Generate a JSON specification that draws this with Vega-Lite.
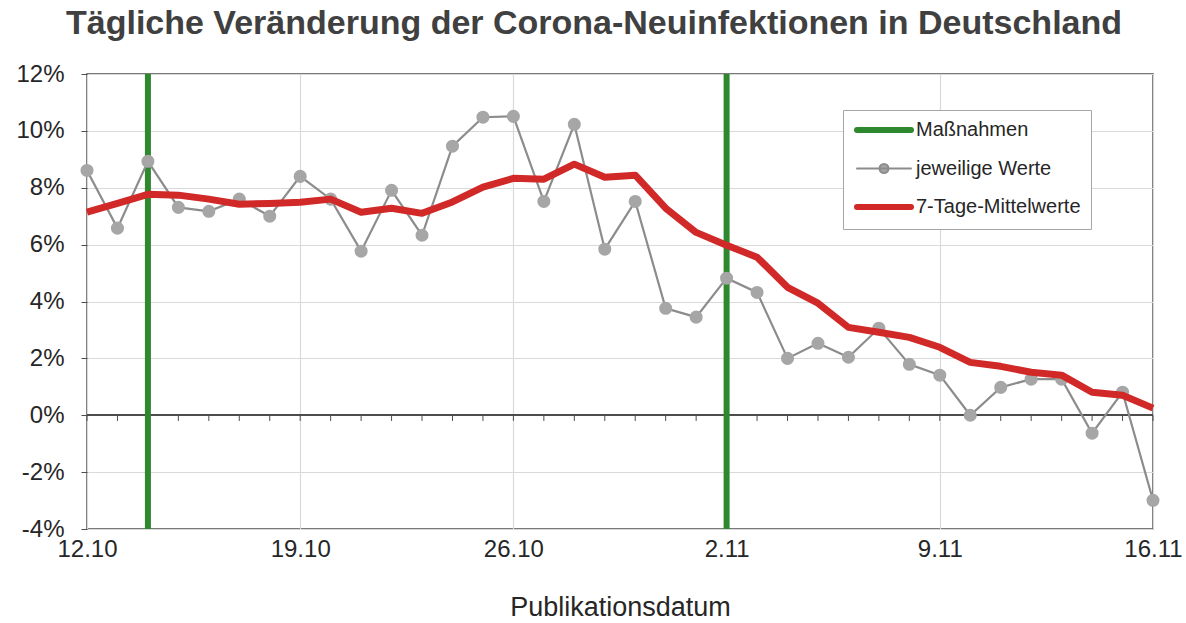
{
  "$schema": "https://vega.github.io/schema/vega-lite/v6.json",
  "width": 1066,
  "height": 455,
  "autosize": "none",
  "padding": {"left": 87, "top": 74, "right": 33, "bottom": 94},
  "background": "white",
  "config": {
    "font": "Liberation Sans",
    "view": {"stroke": "#4d4d4d", "strokeWidth": 1.5}
  },
  "title": {
    "text": "Tägliche Veränderung der Corona-Neuinfektionen in Deutschland",
    "font": "Liberation Sans",
    "fontSize": 34,
    "fontWeight": "bold",
    "color": "#404040",
    "anchor": "middle",
    "dx": -26,
    "offset": 21
  },
  "data": {
    "values": [
      {"date": "2020-10-12", "series": "jeweilige Werte", "value": 8.61},
      {"date": "2020-10-13", "series": "jeweilige Werte", "value": 6.58},
      {"date": "2020-10-14", "series": "jeweilige Werte", "value": 8.93},
      {"date": "2020-10-15", "series": "jeweilige Werte", "value": 7.31},
      {"date": "2020-10-16", "series": "jeweilige Werte", "value": 7.17},
      {"date": "2020-10-17", "series": "jeweilige Werte", "value": 7.6},
      {"date": "2020-10-18", "series": "jeweilige Werte", "value": 7.0},
      {"date": "2020-10-19", "series": "jeweilige Werte", "value": 8.4},
      {"date": "2020-10-20", "series": "jeweilige Werte", "value": 7.6},
      {"date": "2020-10-21", "series": "jeweilige Werte", "value": 5.77},
      {"date": "2020-10-22", "series": "jeweilige Werte", "value": 7.91},
      {"date": "2020-10-23", "series": "jeweilige Werte", "value": 6.33},
      {"date": "2020-10-24", "series": "jeweilige Werte", "value": 9.46},
      {"date": "2020-10-25", "series": "jeweilige Werte", "value": 10.48},
      {"date": "2020-10-26", "series": "jeweilige Werte", "value": 10.51},
      {"date": "2020-10-27", "series": "jeweilige Werte", "value": 7.52},
      {"date": "2020-10-28", "series": "jeweilige Werte", "value": 10.23},
      {"date": "2020-10-29", "series": "jeweilige Werte", "value": 5.84},
      {"date": "2020-10-30", "series": "jeweilige Werte", "value": 7.52},
      {"date": "2020-10-31", "series": "jeweilige Werte", "value": 3.76},
      {"date": "2020-11-01", "series": "jeweilige Werte", "value": 3.45},
      {"date": "2020-11-02", "series": "jeweilige Werte", "value": 4.82},
      {"date": "2020-11-03", "series": "jeweilige Werte", "value": 4.32},
      {"date": "2020-11-04", "series": "jeweilige Werte", "value": 2.0},
      {"date": "2020-11-05", "series": "jeweilige Werte", "value": 2.53},
      {"date": "2020-11-06", "series": "jeweilige Werte", "value": 2.04},
      {"date": "2020-11-07", "series": "jeweilige Werte", "value": 3.06},
      {"date": "2020-11-08", "series": "jeweilige Werte", "value": 1.79},
      {"date": "2020-11-09", "series": "jeweilige Werte", "value": 1.41},
      {"date": "2020-11-10", "series": "jeweilige Werte", "value": 0.0},
      {"date": "2020-11-11", "series": "jeweilige Werte", "value": 0.98},
      {"date": "2020-11-12", "series": "jeweilige Werte", "value": 1.27},
      {"date": "2020-11-13", "series": "jeweilige Werte", "value": 1.27},
      {"date": "2020-11-14", "series": "jeweilige Werte", "value": -0.63},
      {"date": "2020-11-15", "series": "jeweilige Werte", "value": 0.81},
      {"date": "2020-11-16", "series": "jeweilige Werte", "value": -2.99},
      {"date": "2020-10-12", "series": "7-Tage-Mittelwerte", "value": 7.14},
      {"date": "2020-10-13", "series": "7-Tage-Mittelwerte", "value": 7.45},
      {"date": "2020-10-14", "series": "7-Tage-Mittelwerte", "value": 7.77},
      {"date": "2020-10-15", "series": "7-Tage-Mittelwerte", "value": 7.74},
      {"date": "2020-10-16", "series": "7-Tage-Mittelwerte", "value": 7.6},
      {"date": "2020-10-17", "series": "7-Tage-Mittelwerte", "value": 7.42},
      {"date": "2020-10-18", "series": "7-Tage-Mittelwerte", "value": 7.45},
      {"date": "2020-10-19", "series": "7-Tage-Mittelwerte", "value": 7.49},
      {"date": "2020-10-20", "series": "7-Tage-Mittelwerte", "value": 7.6},
      {"date": "2020-10-21", "series": "7-Tage-Mittelwerte", "value": 7.14},
      {"date": "2020-10-22", "series": "7-Tage-Mittelwerte", "value": 7.28},
      {"date": "2020-10-23", "series": "7-Tage-Mittelwerte", "value": 7.1},
      {"date": "2020-10-24", "series": "7-Tage-Mittelwerte", "value": 7.5},
      {"date": "2020-10-25", "series": "7-Tage-Mittelwerte", "value": 8.02},
      {"date": "2020-10-26", "series": "7-Tage-Mittelwerte", "value": 8.33},
      {"date": "2020-10-27", "series": "7-Tage-Mittelwerte", "value": 8.3},
      {"date": "2020-10-28", "series": "7-Tage-Mittelwerte", "value": 8.83},
      {"date": "2020-10-29", "series": "7-Tage-Mittelwerte", "value": 8.37},
      {"date": "2020-10-30", "series": "7-Tage-Mittelwerte", "value": 8.44},
      {"date": "2020-10-31", "series": "7-Tage-Mittelwerte", "value": 7.28},
      {"date": "2020-11-01", "series": "7-Tage-Mittelwerte", "value": 6.43},
      {"date": "2020-11-02", "series": "7-Tage-Mittelwerte", "value": 5.98},
      {"date": "2020-11-03", "series": "7-Tage-Mittelwerte", "value": 5.56},
      {"date": "2020-11-04", "series": "7-Tage-Mittelwerte", "value": 4.5},
      {"date": "2020-11-05", "series": "7-Tage-Mittelwerte", "value": 3.94},
      {"date": "2020-11-06", "series": "7-Tage-Mittelwerte", "value": 3.09},
      {"date": "2020-11-07", "series": "7-Tage-Mittelwerte", "value": 2.92},
      {"date": "2020-11-08", "series": "7-Tage-Mittelwerte", "value": 2.74},
      {"date": "2020-11-09", "series": "7-Tage-Mittelwerte", "value": 2.39},
      {"date": "2020-11-10", "series": "7-Tage-Mittelwerte", "value": 1.86},
      {"date": "2020-11-11", "series": "7-Tage-Mittelwerte", "value": 1.72},
      {"date": "2020-11-12", "series": "7-Tage-Mittelwerte", "value": 1.51},
      {"date": "2020-11-13", "series": "7-Tage-Mittelwerte", "value": 1.41},
      {"date": "2020-11-14", "series": "7-Tage-Mittelwerte", "value": 0.81},
      {"date": "2020-11-15", "series": "7-Tage-Mittelwerte", "value": 0.7},
      {"date": "2020-11-16", "series": "7-Tage-Mittelwerte", "value": 0.25},
      {"date": "2020-10-14", "series": "Maßnahmen", "value": null},
      {"date": "2020-11-02", "series": "Maßnahmen", "value": null}
    ]
  },
  "layer": [
    {
      "transform": [{"filter": "datum.series === 'jeweilige Werte'"}],
      "mark": {"type": "rule", "color": "#4d4d4d", "strokeWidth": 1},
      "encoding": {
        "x": {
          "field": "date", "type": "temporal",
          "scale": {"type": "utc", "domain": [{"year": 2020, "month": 10, "date": 12, "utc": true}, {"year": 2020, "month": 11, "date": 16, "utc": true}]},
          "axis": {
            "values": [{"year": 2020, "month": 10, "date": 12, "utc": true}, {"year": 2020, "month": 10, "date": 19, "utc": true}, {"year": 2020, "month": 10, "date": 26, "utc": true}, {"year": 2020, "month": 11, "date": 2, "utc": true}, {"year": 2020, "month": 11, "date": 9, "utc": true}, {"year": 2020, "month": 11, "date": 16, "utc": true}],
            "format": "%-d.%m", "title": "Publikationsdatum", "grid": true, "gridColor": "#d9d9d9", "gridWidth": 1.2,
            "ticks": false, "domain": false, "labelFontSize": 24, "labelPadding": 8, "labelColor": "#262626", "labelFlush": false,
            "titleFontSize": 27, "titleFontWeight": "normal", "titleColor": "#262626", "titlePadding": 33
          }
        },
        "y": {"datum": 0, "type": "quantitative", "scale": {"domain": [-4, 12], "nice": false, "zero": false}},
        "y2": {"datum": -0.2}
      }
    },
    {
      "mark": {"type": "rule", "color": "#4d4d4d", "strokeWidth": 1.5},
      "encoding": {
        "y": {"datum": 0, "type": "quantitative", "scale": {"domain": [-4, 12], "nice": false, "zero": false}}
      }
    },
    {
      "transform": [{"filter": "datum.series === 'Maßnahmen'"}],
      "mark": {"type": "rule", "strokeWidth": 6},
      "encoding": {
        "x": {"field": "date", "type": "temporal"},
        "color": {
          "field": "series", "type": "nominal",
          "scale": {"domain": ["Maßnahmen", "jeweilige Werte", "7-Tage-Mittelwerte"], "range": ["#2e882e", "#8c8c8c", "#d12828"]},
          "legend": {
            "orient": "none", "legendX": 756, "legendY": 36, "title": null, "direction": "vertical",
            "padding": 10, "strokeColor": "#a6a6a6", "fillColor": "white",
            "labelFontSize": 20, "labelColor": "#262626", "labelOffset": 43, "rowPadding": 16.5, "labelLimit": 400,
            "labelExpr": "datum.label + '\u00a0\u00a0\u00a0'",
            "symbolSize": 400, "symbolType": "M-0.6,0H4.8", "symbolStrokeWidth": 6,
            "encode": {
              "symbols": {
                "update": {
                  "shape": {"signal": "datum.label === 'jeweilige Werte' ? 'M-0.6,0H4.8M1.65,0A0.45,0.45,0,1,1,2.55,0A0.45,0.45,0,1,1,1.65,0Z' : 'M-0.6,0H4.8'"},
                  "strokeWidth": {"signal": "datum.label === 'jeweilige Werte' ? 2 : 6"},
                  "fill": {"signal": "datum.label === 'jeweilige Werte' ? '#a6a6a6' : 'transparent'"},
                  "stroke": {"signal": "datum.label === 'jeweilige Werte' ? '#8c8c8c' : (datum.label === 'Maßnahmen' ? '#2e882e' : '#d12828')"},
                  "strokeCap": {"value": "round"}
                }
              }
            }
          }
        }
      }
    },
    {
      "transform": [{"filter": "datum.series === 'jeweilige Werte'"}],
      "mark": {"type": "line", "strokeWidth": 2.2},
      "encoding": {
        "x": {"field": "date", "type": "temporal"},
        "y": {
          "field": "value", "type": "quantitative",
          "scale": {"domain": [-4, 12], "nice": false, "zero": false},
          "axis": {
            "values": [-4, -2, 0, 2, 4, 6, 8, 10, 12], "labelExpr": "datum.value + '%'", "title": null,
            "grid": true, "gridColor": "#d9d9d9", "gridWidth": 1.2, "domain": false,
            "tickSize": 6, "tickColor": "#4d4d4d", "labelFontSize": 24, "labelPadding": 17, "labelColor": "#262626"
          }
        },
        "color": {"field": "series", "type": "nominal"}
      }
    },
    {
      "transform": [{"filter": "datum.series === 'jeweilige Werte'"}],
      "mark": {"type": "point", "filled": true, "opacity": 1, "size": 170, "color": "#a6a6a6"},
      "encoding": {
        "x": {"field": "date", "type": "temporal"},
        "y": {"field": "value", "type": "quantitative"}
      }
    },
    {
      "transform": [{"filter": "datum.series === '7-Tage-Mittelwerte'"}],
      "mark": {"type": "line", "strokeWidth": 7, "strokeJoin": "round"},
      "encoding": {
        "x": {"field": "date", "type": "temporal"},
        "y": {"field": "value", "type": "quantitative"},
        "color": {"field": "series", "type": "nominal"}
      }
    }
  ]
}
